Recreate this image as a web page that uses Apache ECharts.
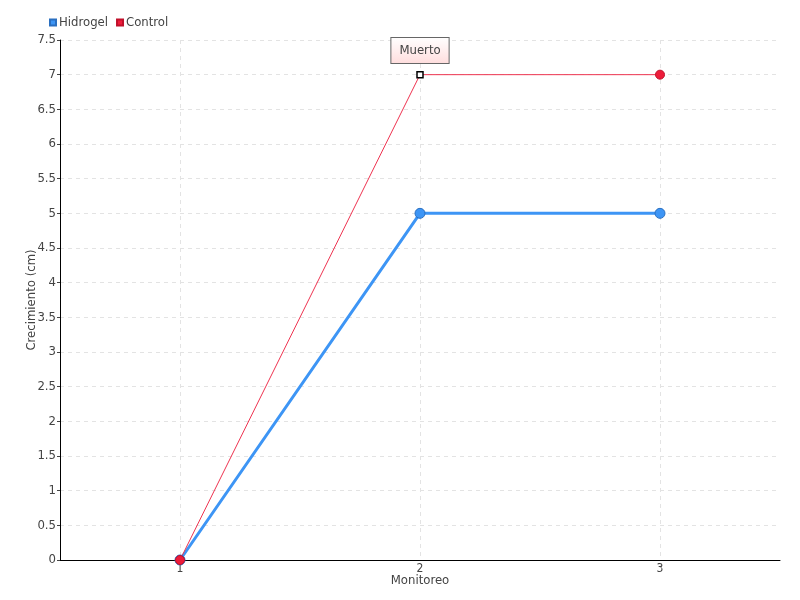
<!DOCTYPE html>
<html>
<head>
<meta charset="utf-8">
<script src="https://cdn.jsdelivr.net/npm/echarts@6/dist/echarts.min.js"></script>
<style>
  html, body { margin: 0; padding: 0; background: #fff; }
  #chart { width: 800px; height: 600px; }
</style>
</head>
<body>
<div id="chart"></div>
<script>
// datos del gráfico
var monitoreo = ['1', '2', '3']
var hidrogel = [0, 5, 5]
var control = [0, 7, 7]
var notaControl = { index: 1, texto: 'Muerto' }

var fuente = '"Liberation Sans Narrow", "DejaVu Sans Condensed", sans-serif'

var controlData = control.map(function (v, i) {
  if (i !== notaControl.index) return v
  return {
    value: v,
    symbol: 'rect',
    symbolSize: 6,
    itemStyle: { color: '#fff', borderColor: '#000', borderWidth: 1.5 },
    label: {
      show: true,
      position: 'top',
      distance: 8,
      formatter: notaControl.texto,
      fontFamily: fuente,
      fontSize: 13,
      color: '#444',
      padding: [6, 8, 6, 8],
      borderColor: '#666',
      borderWidth: 1,
      backgroundColor: {
        type: 'linear', x: 0, y: 0, x2: 0, y2: 1,
        colorStops: [{ offset: 0, color: '#fff' }, { offset: 1, color: '#fdd' }]
      }
    }
  }
})

var chart = echarts.init(document.getElementById('chart'))
chart.setOption({
  animation: false,
  textStyle: { fontFamily: fuente },
  legend: {
    left: 44,
    top: 11,
    itemWidth: 6,
    itemHeight: 6,
    itemGap: 8,
    icon: 'rect',
    textStyle: { fontSize: 13, color: '#444', fontFamily: fuente, padding: [0, 0, 0, -2] },
    data: ['Hidrogel', 'Control']
  },
  grid: { left: 60, right: 20, top: 40, bottom: 40 },
  xAxis: {
    type: 'category',
    data: monitoreo,
    boundaryGap: true,
    name: 'Monitoreo',
    nameLocation: 'middle',
    nameGap: 14,
    nameMoveOverlap: false,
    nameTextStyle: { fontSize: 13, color: '#444', fontFamily: fuente },
    axisLine: { lineStyle: { color: '#000', width: 1 } },
    axisTick: { alignWithLabel: true, length: 8, lineStyle: { color: '#444' } },
    axisLabel: { fontSize: 12, color: '#444', margin: 3, fontFamily: fuente },
    splitLine: { show: true, alignWithLabel: true, lineStyle: { color: '#e3e3e3', type: [4, 4] } }
  },
  yAxis: {
    type: 'value',
    min: 0,
    max: 7.5,
    interval: 0.5,
    name: 'Crecimiento (cm)',
    nameLocation: 'middle',
    nameGap: 22,
    nameMoveOverlap: false,
    nameTextStyle: { fontSize: 13, color: '#444', fontFamily: fuente },
    axisLine: { show: true, lineStyle: { color: '#000', width: 1 } },
    axisTick: { show: true, length: 3, lineStyle: { color: '#444' } },
    axisLabel: { fontSize: 13, color: '#444', margin: 4, fontFamily: fuente },
    splitLine: { show: true, lineStyle: { color: '#e3e3e3', type: [4, 4] } }
  },
  series: [{
    name: 'Hidrogel',
    type: 'line',
    data: hidrogel,
    symbol: 'circle',
    symbolSize: 10,
    color: '#3d8fec',
    lineStyle: { width: 3, color: '#3d95f5' },
    itemStyle: { color: '#3d95f5', borderColor: '#2a6fc0', borderWidth: 1 }
  }, {
    name: 'Control',
    type: 'line',
    data: controlData,
    symbol: 'circle',
    symbolSize: 9,
    color: '#ee1c3a',
    lineStyle: { width: 1, color: '#ee3350' },
    itemStyle: { color: '#ee1c3a', borderColor: '#c0102a', borderWidth: 1 }
  }]
})
</script>
</body>
</html>
